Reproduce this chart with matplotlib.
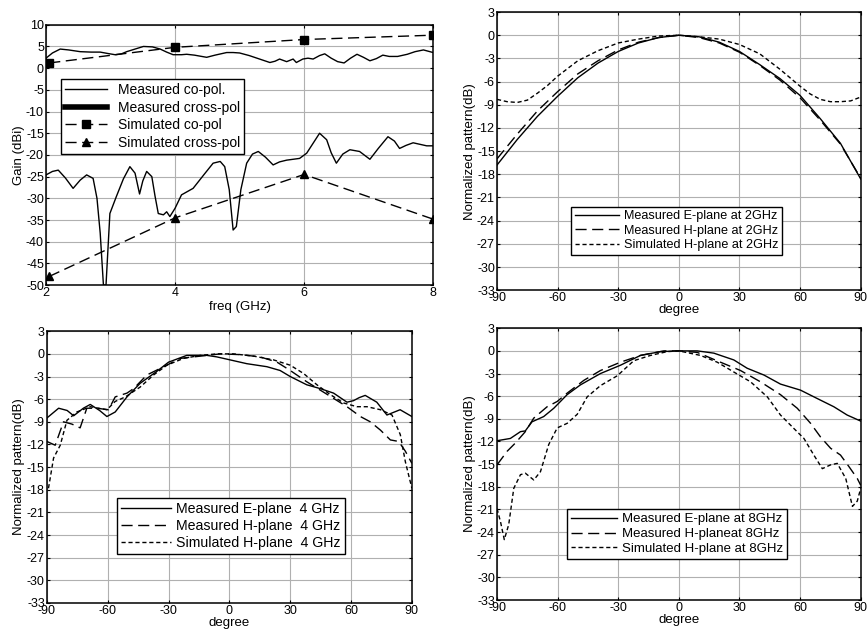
import numpy as np
import matplotlib
matplotlib.use("Agg")
import matplotlib.pyplot as plt

plt.rcParams['font.family'] = ['Liberation Sans', 'DejaVu Sans']
plt.rcParams['axes.unicode_minus'] = False

# ---- panel (a): gain vs frequency ----
f_co = [2.0, 2.1, 2.22, 2.35, 2.53, 2.7, 2.84, 2.95, 3.07, 3.17, 3.25, 3.38, 3.51, 3.65, 3.77, 3.87, 3.97,
        4.1, 4.18, 4.3, 4.49, 4.62, 4.8, 4.9, 5.0, 5.15, 5.31, 5.47, 5.55, 5.62, 5.73, 5.83, 5.88, 5.98,
        6.06, 6.14, 6.24, 6.32, 6.42, 6.52, 6.62, 6.72, 6.82, 6.92, 7.02, 7.12, 7.22, 7.32, 7.45,
        7.6, 7.72, 7.85, 7.95, 8.0]
g_co = [2.3, 3.5, 4.4, 4.2, 3.8, 3.7, 3.7, 3.4, 3.1, 3.3, 3.8, 4.4, 5.0, 4.9, 4.4, 3.7, 3.1,
        3.1, 3.2, 3.0, 2.5, 3.0, 3.6, 3.6, 3.5, 2.9, 2.1, 1.3, 1.6, 2.1, 1.5, 2.1, 1.3, 2.1,
        2.3, 2.1, 2.9, 3.3, 2.3, 1.5, 1.2, 2.3, 3.2, 2.5, 1.7, 2.2, 3.0, 2.7, 2.7,
        3.2, 3.8, 4.2, 3.8, 3.6]

f_x = [2.0, 2.1, 2.19, 2.3, 2.42, 2.53, 2.63, 2.73, 2.79, 2.84, 2.89, 2.93, 2.99, 3.09, 3.2, 3.3, 3.38,
       3.45, 3.5, 3.56, 3.64, 3.69, 3.74, 3.82, 3.87, 3.92, 4.0, 4.1, 4.28, 4.45, 4.59, 4.7, 4.77,
       4.84, 4.9, 4.95, 5.02, 5.11, 5.2, 5.29, 5.4, 5.52, 5.62, 5.73, 5.93, 6.04, 6.14, 6.24, 6.35,
       6.42, 6.5, 6.6, 6.71, 6.86, 7.02, 7.15, 7.3, 7.4, 7.48, 7.58, 7.69, 7.9, 8.0]
g_x = [-24.6, -23.8, -23.5, -25.3, -27.7, -25.8, -24.6, -25.4, -30.0, -38.0, -50.0, -50.0, -33.5, -29.6, -25.5, -22.7, -24.2,
       -29.0, -26.0, -23.8, -25.0, -29.5, -33.5, -33.8, -33.1, -34.2, -32.3, -29.2, -27.7, -24.5, -21.9, -21.5, -22.7,
       -28.0, -37.3, -36.5, -28.0, -21.9, -19.8, -19.2, -20.5, -22.3, -21.6, -21.2, -20.8, -19.6, -17.3, -15.0, -16.5,
       -19.5, -21.9, -19.8, -18.8, -19.2, -21.0, -18.5, -15.8, -16.8, -18.5, -17.8, -17.2, -17.9, -17.9]

f_sim = [2.05, 4.0, 6.0, 8.0]
g_sim_co = [1.2, 4.8, 6.6, 7.6]
g_sim_x = [-48.0, -34.5, -24.5, -34.8]

# ---- panel (b): 2 GHz ----
ang_2 = [-90, -80, -70, -60, -50, -40, -30, -20, -10, 0, 10, 20, 30, 40, 50, 60, 70, 80, 90]
e_2 = [-16.8, -13.5, -10.5, -7.9, -5.5, -3.6, -2.1, -1.0, -0.3, 0.0, -0.2, -0.9, -2.1, -3.8, -5.6, -7.8, -10.8, -14.0, -18.6]
h_2 = [-16.0, -12.8, -9.8, -7.3, -5.0, -3.3, -1.9, -0.9, -0.3, 0.0, -0.3, -1.0, -2.2, -3.9, -5.8, -8.1, -11.0, -14.1, -18.5]
ang_2s = [-90, -85, -80, -75, -70, -65, -60, -50, -40, -30, -20, -10, 0, 10, 20, 30, 40, 50, 60, 65, 70, 75, 80, 85, 90]
s_2 = [-8.3, -8.6, -8.7, -8.4, -7.5, -6.5, -5.3, -3.3, -2.0, -1.0, -0.5, -0.1, 0.0, -0.2, -0.5, -1.2, -2.4, -4.4, -6.6, -7.6, -8.3, -8.6, -8.6, -8.5, -8.0]

# ---- panel (c): 4 GHz ----
ang_4e = [-90, -84.2, -80, -76.8, -72, -68.6, -64, -60.4, -56.3, -50.5, -44, -35.7, -30, -21, -11.1, -6.2, 0.4,
          8.6, 18.5, 25, 30, 38.2, 44.8, 51.4, 58, 61.2, 64, 67, 72.7, 77.7, 84.2, 90]
e_4 = [-8.5, -7.2, -7.5, -8.2, -7.2, -6.7, -7.5, -8.3, -7.7, -5.7, -3.9, -2.3, -1.1, -0.2, -0.2, -0.4, -0.8,
       -1.3, -1.7, -2.2, -3.0, -4.1, -4.6, -5.2, -6.4, -6.2, -5.8, -5.5, -6.4, -8.1, -7.4, -8.3]
ang_4h = [-90, -85.9, -81.8, -77.7, -73.6, -70.3, -65.4, -59.6, -56.3, -50.5, -47.2, -40.7, -32.4, -24.2, -14.3,
          -4.4, 5.4, 15.2, 23.5, 30, 38.2, 44.8, 51.4, 58, 64.6, 69.5, 74.5, 79.4, 83.5, 86.8, 90]
h_4 = [-11.6, -12.1, -9.0, -9.3, -9.8, -7.2, -7.2, -7.4, -5.7, -5.2, -4.6, -2.8, -1.7, -0.6, -0.3,
       0.0, -0.1, -0.4, -1.1, -2.2, -3.7, -4.8, -5.9, -7.0, -8.3, -9.0, -10.1, -11.4, -11.6, -12.9, -14.5]
ang_4s = [-89.2, -86.7, -83.4, -80.1, -75.2, -68.6, -60.4, -56.3, -51.3, -44, -37.4, -30.8, -22.6, -14.3, -6.1,
          2.1, 12, 21.8, 30, 36.6, 43.2, 49.8, 56.3, 62.9, 67.9, 74.5, 80.2, 84.3, 86.8, 90]
s_4 = [-17.8, -13.8, -12.1, -8.8, -7.7, -7.0, -7.4, -6.3, -5.7, -4.4, -2.8, -1.5, -0.6, -0.2, 0.0,
       0.0, -0.3, -0.8, -1.5, -2.6, -4.1, -5.4, -6.5, -7.0, -7.0, -7.4, -8.1, -10.7, -14.3, -17.8]

# ---- panel (d): 8 GHz ----
ang_8e = [-90, -83.4, -78.4, -76, -72.7, -66.9, -61.9, -55.3, -48.7, -38.8, -28.9, -19, -9.1, 0, 9.1, 17.3,
          27.2, 33.8, 42.1, 50.3, 60.2, 68.4, 76.7, 83.3, 90]
e_8 = [-11.9, -11.6, -10.7, -10.6, -9.4, -8.7, -7.6, -5.8, -4.5, -3.0, -1.9, -0.6, -0.1, 0.0, 0.0, -0.3,
       -1.2, -2.3, -3.2, -4.4, -5.2, -6.3, -7.4, -8.5, -9.3]
ang_8h = [-90, -85, -80.9, -76, -71.8, -65.2, -60.2, -55.3, -47, -38.8, -28.9, -19, -7.4, 0, 9.1, 20.6, 30.5,
          40.4, 50.3, 58.6, 65.2, 70.1, 75.1, 80, 84.1, 88.3, 90]
h_8 = [-15.1, -13.3, -12.2, -10.7, -8.9, -7.4, -6.7, -5.6, -3.9, -2.6, -1.5, -0.6, 0.0, 0.0, -0.2, -1.5, -2.6,
       -4.1, -5.8, -7.6, -9.6, -11.4, -12.9, -13.8, -15.3, -16.9, -17.8]
ang_8s = [-90, -88.3, -86.4, -84.2, -81.7, -78.4, -76, -71.8, -68.5, -64.4, -60.2, -55.3, -50.3, -45.4, -38.8,
          -30.5, -22.3, -14, -5.8, 0, 10.7, 19, 27.2, 35.5, 43.8, 50.3, 57, 61.9, 66.8, 71, 75.1, 78.4, 82.6,
          85.9, 88.3, 90]
s_8 = [-20.9, -22.6, -25.0, -23.0, -18.2, -16.4, -16.2, -17.1, -16.0, -12.4, -10.2, -9.6, -8.4, -6.1, -4.6,
       -3.3, -1.3, -0.6, -0.1, 0.0, -0.6, -1.5, -2.8, -4.1, -6.1, -8.5, -10.3, -11.6, -13.8, -15.6, -15.1, -14.9, -16.9,
       -20.6, -19.9, -18.2]

dash_long = (0, (8, 4))
dash_short = (0, (3, 2))

fig = plt.figure(figsize=(8.68, 6.35), dpi=100)
ax1 = fig.add_axes([0.053, 0.551, 0.446, 0.410])
ax2 = fig.add_axes([0.5726, 0.543, 0.419, 0.438])
ax3 = fig.add_axes([0.054, 0.0504, 0.4205, 0.428])
ax4 = fig.add_axes([0.5726, 0.0551, 0.419, 0.428])


def style(ax):
    ax.grid(True, color='#b0b0b0', linewidth=0.8)
    ax.set_axisbelow(True)
    ax.tick_params(direction='in', labelsize=9, length=2, top=True, right=True, pad=1.5)
    for s in ax.spines.values():
        s.set_linewidth(1.1)


# (a)
ax1.plot(f_co, g_co, color='k', lw=1.0, label='Measured co-pol.')
ax1.plot(f_x, g_x, color='k', lw=1.0, label='Measured cross-pol')
ax1.plot(f_sim, g_sim_co, color='k', lw=1.0, ls=dash_long, marker='s', ms=6, label='Simulated co-pol')
ax1.plot(f_sim, g_sim_x, color='k', lw=1.0, ls=dash_long, marker='^', ms=6, label='Simulated cross-pol')
ax1.set_xlim(2, 8)
ax1.set_ylim(-50, 10)
ax1.set_xticks([2, 4, 6, 8])
ax1.set_yticks(np.arange(-50, 11, 5))
ax1.set_xlabel('freq (GHz)', fontsize=9.5, labelpad=1)
ax1.set_ylabel('Gain (dBi)', fontsize=9.5, labelpad=1)
style(ax1)
leg = ax1.legend(loc='lower left', bbox_to_anchor=(0.039, 0.504), fontsize=10, frameon=True, fancybox=False,
                 edgecolor='k', framealpha=1, handlelength=3, borderpad=0.3, labelspacing=0.25, borderaxespad=0)
leg.get_frame().set_linewidth(1.0)
leg.get_lines()[1].set_linewidth(4)
leg.get_lines()[1].set_linestyle('-')

# (b), (c), (d)
panels = [
    (ax2, ang_2, e_2, ang_2, h_2, ang_2s, s_2,
     ['Measured E-plane at 2GHz', 'Measured H-plane at 2GHz', 'Simulated H-plane at 2GHz'], (0.203, 0.126), 9.1),
    (ax3, ang_4e, e_4, ang_4h, h_4, ang_4s, s_4,
     ['Measured E-plane  4 GHz', 'Measured H-plane  4 GHz', 'Simulated H-plane  4 GHz'], (0.192, 0.18), 10.2),
    (ax4, ang_8e, e_8, ang_8h, h_8, ang_8s, s_8,
     ['Measured E-plane at 8GHz', 'Measured H-planeat 8GHz', 'Simulated H-plane at 8GHz'], (0.192, 0.151), 9.5),
]
for ax, xe, ye, xh, yh, xs, ys, labels, anchor, fs in panels:
    ax.plot(xe, ye, color='k', lw=1.0, label=labels[0])
    ax.plot(xh, yh, color='k', lw=1.0, ls=dash_long, label=labels[1])
    ax.plot(xs, ys, color='k', lw=1.0, ls=dash_short, label=labels[2])
    ax.set_xlim(-90, 90)
    ax.set_ylim(-33, 3)
    ax.set_xticks(np.arange(-90, 91, 30))
    ax.set_yticks(np.arange(-33, 4, 3))
    ax.set_xlabel('degree', fontsize=9.5, labelpad=0)
    ax.set_ylabel('Normalized pattern(dB)', fontsize=9.5, labelpad=1)
    style(ax)
    lg = ax.legend(loc='lower left', bbox_to_anchor=anchor, fontsize=fs, frameon=True, fancybox=False,
                   edgecolor='k', framealpha=1, handlelength=3.5, handletextpad=0.4, borderpad=0.3,
                   labelspacing=0.2, borderaxespad=0)
    lg.get_frame().set_linewidth(1.0)

fig.savefig('out.png', dpi=100)
